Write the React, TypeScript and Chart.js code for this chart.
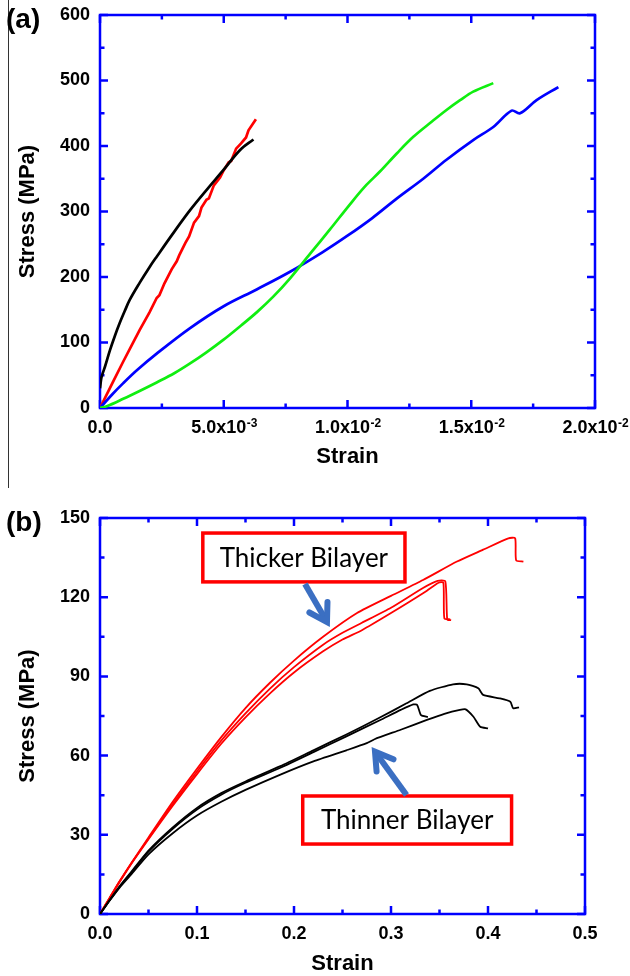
import React, { useEffect, useRef } from 'react';
import { Chart, registerables } from 'chart.js';

Chart.register(...registerables);

const FONT = '"Liberation Sans", Arial, Helvetica, sans-serif';

// ---------- Panel (a) ----------
const strainTicksA = [0, 0.005, 0.01, 0.015, 0.02];
const strainMantissaA = ['0.0', '5.0x10', '1.0x10', '1.5x10', '2.0x10'];
const strainExponentA = ['', '-3', '-2', '-2', '-2'];
const stressTicksA = [0, 100, 200, 300, 400, 500, 600];

const blackA: [number, number][] = [
  [0, 30], [0.00005, 45], [0.0001, 52], [0.0002, 63], [0.0004, 88], [0.0006, 110], [0.0008, 130],
  [0.001, 148], [0.0012, 165], [0.0016, 191], [0.002, 215], [0.00229, 231], [0.00296, 267],
  [0.00364, 302], [0.00431, 333], [0.00498, 363], [0.00566, 394], [0.0062, 410],
];
const redA: [number, number][] = [
  [0, 0], [0.0005, 38], [0.00094, 71], [0.0013, 97], [0.0016, 119], [0.002, 146], [0.00229, 168],
  [0.0024, 172], [0.0026, 190], [0.0029, 212], [0.0031, 224], [0.0032, 233], [0.00345, 252],
  [0.0036, 262], [0.0038, 283], [0.004, 293], [0.0041, 306], [0.0043, 318], [0.0044, 320],
  [0.0046, 340], [0.00485, 352], [0.005, 363], [0.0052, 375], [0.0053, 377], [0.0055, 396],
  [0.0057, 404], [0.0059, 413], [0.006, 424], [0.0063, 441],
];
const greenA: [number, number][] = [
  [0, 0], [0.0003, 3], [0.00094, 14], [0.0016, 26], [0.00229, 39], [0.003, 53], [0.00364, 68],
  [0.0043, 85], [0.00498, 104], [0.0057, 126], [0.00633, 146], [0.007, 170], [0.00768, 198],
  [0.0085, 236], [0.0093, 273], [0.0101, 311], [0.0107, 338], [0.01131, 361], [0.012, 389],
  [0.01266, 414], [0.0134, 437], [0.014, 455], [0.01455, 470], [0.01508, 483], [0.01589, 496],
];
const blueA: [number, number][] = [
  [0, 0], [0.0005, 21], [0.00094, 38], [0.0015, 58], [0.00229, 83], [0.00364, 122],
  [0.00498, 155], [0.00633, 181], [0.00768, 208], [0.009, 238], [0.01, 263], [0.011, 290],
  [0.012, 320], [0.01306, 350], [0.014, 379], [0.01508, 409], [0.01589, 429], [0.01663, 454],
  [0.01697, 450], [0.01764, 470], [0.01852, 490],
];

// ---------- Panel (b) ----------
const strainTicksB = [0, 0.1, 0.2, 0.3, 0.4, 0.5];
const strainMantissaB = ['0.0', '0.1', '0.2', '0.3', '0.4', '0.5'];
const strainExponentB = ['', '', '', '', '', ''];
const stressTicksB = [0, 30, 60, 90, 120, 150];

const thick1: [number, number][] = [
  [0, 0], [0.01, 6.2], [0.02, 12.3], [0.031, 18.6], [0.05, 29], [0.075, 42.5], [0.1, 55],
  [0.125, 67], [0.15, 78], [0.175, 87.5], [0.2, 96], [0.23, 105], [0.265, 114], [0.3, 120.5],
  [0.333, 126.5], [0.368, 133.5], [0.395, 138], [0.421, 142.3], [0.428, 142.3], [0.429, 134],
  [0.4365, 133.5],
];
const thick2: [number, number][] = [
  [0, 0], [0.01, 6], [0.02, 12], [0.031, 18.3], [0.05, 28.3], [0.075, 41], [0.1, 53],
  [0.125, 64.5], [0.15, 74.5], [0.175, 83.5], [0.2, 91.5], [0.23, 99.5], [0.25, 104],
  [0.27, 107.5], [0.3, 114], [0.333, 121.5], [0.349, 125.5], [0.354, 125.5], [0.355, 112],
  [0.361, 111.6],
];
const thick3: [number, number][] = [
  [0, 0], [0.01, 6.1], [0.02, 12.2], [0.031, 18.5], [0.05, 28.6], [0.075, 41.7], [0.1, 54],
  [0.125, 65.7], [0.15, 76], [0.175, 85.3], [0.2, 93.5], [0.23, 102], [0.25, 106.5],
  [0.27, 110.3], [0.3, 116], [0.333, 123.5], [0.348, 126.2], [0.356, 126], [0.358, 111.5],
  [0.362, 111.3],
];
const thin1: [number, number][] = [
  [0, 0], [0.01, 5.3], [0.02, 10.4], [0.031, 15.4], [0.05, 24], [0.075, 32.8], [0.1, 40.2],
  [0.125, 45.8], [0.15, 50.2], [0.186, 56], [0.22, 62], [0.254, 68], [0.289, 74.5],
  [0.316, 79.8], [0.34, 84.5], [0.364, 87], [0.378, 87], [0.39, 85.5], [0.395, 83],
  [0.412, 81.7], [0.423, 80.4], [0.426, 77.9], [0.432, 78.3],
];
const thin2: [number, number][] = [
  [0, 0], [0.01, 5.2], [0.02, 10.2], [0.031, 15], [0.05, 23.6], [0.075, 32.3], [0.1, 39.6],
  [0.125, 45.2], [0.15, 49.7], [0.186, 55.4], [0.22, 61.3], [0.254, 67.3], [0.289, 73.5],
  [0.31, 77.3], [0.323, 79.4], [0.327, 79.2], [0.331, 75.3], [0.338, 74.6],
];
const thin3: [number, number][] = [
  [0, 0], [0.01, 5.1], [0.02, 9.9], [0.031, 14.5], [0.05, 22.6], [0.075, 30.6], [0.1, 37.3],
  [0.125, 42.5], [0.15, 47], [0.186, 52.8], [0.22, 57.8], [0.254, 62], [0.275, 64.7],
  [0.283, 66.2], [0.31, 69.8], [0.337, 73.5], [0.355, 75.8], [0.371, 77.3], [0.377, 77.5],
  [0.385, 74.7], [0.392, 70.9], [0.4, 70.3],
];

// annotation boxes (data coordinates): [x0, y0, x1, y1], arrows [tailX, tailY, tipX, tipY]
const noteLabels = ['Thicker Bilayer', 'Thinner Bilayer'];
const noteBoxes = [
  [0.106, 144.3, 0.3144, 125.8],
  [0.209, 44.7, 0.4243, 26.5],
];
const noteArrows = [
  [0.2113, 125.0, 0.234, 110.6],
  [0.316, 45.1, 0.2835, 61.5],
];

const toXY = (arr: [number, number][]) => arr.map(([x, y]) => ({ x, y }));

const TICK_SIZE = 18;
const SUP_SIZE = 12;
const X_TICK_PAD = 9;
const SUP_GAP = '  ';

const frameTicks = {
  id: 'frameTicks',
  beforeDatasetsDraw(chart: any) {
    const { ctx, chartArea: a } = chart;
    const xs = chart.scales.x;
    const ys = chart.scales.y;
    const xv = xs.ticks.map((t: any) => t.value);
    const yv = ys.ticks.map((t: any) => t.value);
    const mids = (arr: number[]) => arr.slice(0, -1).map((v, i) => (v + arr[i + 1]) / 2);
    const major = 8;
    const minor = 4.5;
    ctx.save();
    ctx.strokeStyle = '#0000ff';
    ctx.lineWidth = 2.5;
    ctx.beginPath();
    const xTick = (v: number, len: number) => {
      const p = xs.getPixelForValue(v);
      ctx.moveTo(p, a.bottom);
      ctx.lineTo(p, a.bottom - len);
      ctx.moveTo(p, a.top);
      ctx.lineTo(p, a.top + len);
    };
    const yTick = (v: number, len: number) => {
      const p = ys.getPixelForValue(v);
      ctx.moveTo(a.left, p);
      ctx.lineTo(a.left + len, p);
      ctx.moveTo(a.right, p);
      ctx.lineTo(a.right - len, p);
    };
    xv.forEach((v: number) => xTick(v, major));
    mids(xv).forEach((v) => xTick(v, minor));
    yv.forEach((v: number) => yTick(v, major));
    mids(yv).forEach((v) => yTick(v, minor));
    ctx.stroke();
    ctx.strokeRect(a.left, a.top, a.right - a.left, a.bottom - a.top);
    ctx.restore();
  },
};

// draws the superscript exponent into the gap left at the end of each x tick label
const makeSuperscripts = (mantissa: string[], exps: string[]) => ({
  id: 'superscripts',
  afterDraw(chart: any) {
    const { ctx } = chart;
    const xs = chart.scales.x;
    const base = `bold ${TICK_SIZE}px ${FONT}`;
    const centerY = xs.top + X_TICK_PAD + (TICK_SIZE * 1.2) / 2;
    ctx.save();
    ctx.fillStyle = '#000';
    xs.ticks.forEach((t: any, i: number) => {
      const e = exps[i];
      if (!e) return;
      ctx.font = base;
      const full = ctx.measureText(mantissa[i] + SUP_GAP).width;
      const mw = ctx.measureText(mantissa[i]).width;
      const px = xs.getPixelForValue(t.value);
      const x = px - full / 2 + mw + 0.5;
      ctx.font = `bold ${SUP_SIZE}px ${FONT}`;
      ctx.textAlign = 'left';
      ctx.textBaseline = 'alphabetic';
      ctx.fillText(e, x, centerY - 1);
    });
    ctx.restore();
  },
});

const notesPlugin = {
  id: 'notes',
  afterDatasetsDraw(chart: any) {
    const { ctx } = chart;
    const xs = chart.scales.x;
    const ys = chart.scales.y;
    ctx.save();
    noteBoxes.forEach((b, i) => {
      const x0 = xs.getPixelForValue(b[0]);
      const y0 = ys.getPixelForValue(b[1]);
      const x1 = xs.getPixelForValue(b[2]);
      const y1 = ys.getPixelForValue(b[3]);
      ctx.fillStyle = '#ffffff';
      ctx.fillRect(x0, y0, x1 - x0, y1 - y0);
      ctx.strokeStyle = '#ff0000';
      ctx.lineWidth = 3.5;
      ctx.strokeRect(x0, y0, x1 - x0, y1 - y0);
      ctx.fillStyle = '#000000';
      ctx.font = '26px Lato, "Open Sans", sans-serif';
      ctx.textAlign = 'center';
      ctx.textBaseline = 'middle';
      ctx.fillText(noteLabels[i], (x0 + x1) / 2, (y0 + y1) / 2 + 1);

      const ar = noteArrows[i];
      const tx = xs.getPixelForValue(ar[0]);
      const ty = ys.getPixelForValue(ar[1]);
      const hx = xs.getPixelForValue(ar[2]);
      const hy = ys.getPixelForValue(ar[3]);
      const ang = Math.atan2(hy - ty, hx - tx);
      ctx.strokeStyle = '#3b6fc2';
      ctx.lineWidth = 6;
      ctx.lineCap = 'butt';
      ctx.beginPath();
      ctx.moveTo(tx, ty);
      ctx.lineTo(hx - Math.cos(ang) * 2, hy - Math.sin(ang) * 2);
      ctx.stroke();
      const hl = 20;
      ctx.lineCap = 'round';
      ctx.lineJoin = 'miter';
      ctx.beginPath();
      ctx.moveTo(hx - Math.cos(ang - 0.55) * hl, hy - Math.sin(ang - 0.55) * hl);
      ctx.lineTo(hx, hy);
      ctx.lineTo(hx - Math.cos(ang + 0.55) * hl, hy - Math.sin(ang + 0.55) * hl);
      ctx.stroke();
    });
    ctx.restore();
  },
};

type PanelCfg = {
  xMax: number;
  yMax: number;
  xTicks: number[];
  xMantissa: string[];
  xExponent: string[];
  yTicks: number[];
  padTop: number;
  padRight: number;
  xHeight: number;
  xTitlePad: number;
  lineWidth: number;
};

function buildOptions(c: PanelCfg): any {
  const tickFont = { family: FONT, size: TICK_SIZE, weight: 'bold' as const };
  const titleFont = { family: FONT, size: 22, weight: 'bold' as const, lineHeight: 1 };
  return {
    responsive: false,
    animation: false,
    events: [],
    layout: { padding: { left: 0, top: c.padTop, right: c.padRight, bottom: 0 } },
    plugins: { legend: { display: false }, tooltip: { enabled: false } },
    elements: { point: { radius: 0 }, line: { borderWidth: c.lineWidth } },
    scales: {
      x: {
        type: 'linear',
        min: 0,
        max: c.xMax,
        afterBuildTicks: (s: any) => {
          s.ticks = c.xTicks.map((v) => ({ value: v }));
        },
        afterFit: (s: any) => {
          s.height = c.xHeight;
          s.paddingLeft = 0;
          s.paddingRight = 0;
        },
        grid: { display: false, drawTicks: false },
        border: { display: false },
        ticks: {
          callback: (_v: any, i: number) => c.xMantissa[i] + (c.xExponent[i] ? SUP_GAP : ''),
          font: tickFont,
          color: '#000',
          padding: X_TICK_PAD,
          maxRotation: 0,
          autoSkip: false,
        },
        title: {
          display: true,
          text: 'Strain',
          font: titleFont,
          color: '#000',
          padding: { top: 0, bottom: c.xTitlePad },
        },
      },
      y: {
        type: 'linear',
        min: 0,
        max: c.yMax,
        afterBuildTicks: (s: any) => {
          s.ticks = c.yTicks.map((v) => ({ value: v }));
        },
        afterFit: (s: any) => {
          s.width = 100;
          s.paddingTop = 0;
          s.paddingBottom = 0;
        },
        grid: { display: false, drawTicks: false },
        border: { display: false },
        ticks: {
          callback: (v: any) => String(v),
          font: tickFont,
          color: '#000',
          padding: 10,
          autoSkip: false,
        },
        title: {
          display: true,
          text: 'Stress (MPa)',
          font: titleFont,
          color: '#000',
          padding: { top: 17, bottom: 0 },
        },
      },
    },
  };
}

const line = (data: [number, number][], color: string, tension: number) => ({
  data: toXY(data),
  borderColor: color,
  backgroundColor: color,
  fill: false,
  tension,
  pointRadius: 0,
});

export default function App() {
  const refA = useRef<HTMLCanvasElement | null>(null);
  const refB = useRef<HTMLCanvasElement | null>(null);

  useEffect(() => {
    const chartA = new Chart(refA.current as HTMLCanvasElement, {
      type: 'line',
      data: {
        datasets: [
          line(greenA, '#10ee10', 0.35),
          line(blueA, '#0000ff', 0.35),
          line(blackA, '#000000', 0.35),
          line(redA, '#ff0000', 0),
        ],
      },
      options: buildOptions({
        xMax: 0.02,
        yMax: 600,
        xTicks: strainTicksA,
        xMantissa: strainMantissaA,
        xExponent: strainExponentA,
        yTicks: stressTicksA,
        padTop: 15,
        padRight: 35,
        xHeight: 72,
        xTitlePad: 12,
        lineWidth: 2.7,
      }),
      plugins: [frameTicks, makeSuperscripts(strainMantissaA, strainExponentA)],
    } as any);

    const chartB = new Chart(refB.current as HTMLCanvasElement, {
      type: 'line',
      data: {
        datasets: [
          line(thin1, '#000000', 0.2),
          line(thin2, '#000000', 0.2),
          line(thin3, '#000000', 0.2),
          line(thick1, '#ff0000', 0.2),
          line(thick2, '#ff0000', 0.2),
          line(thick3, '#ff0000', 0.2),
        ],
      },
      options: buildOptions({
        xMax: 0.5,
        yMax: 150,
        xTicks: strainTicksB,
        xMantissa: strainMantissaB,
        xExponent: strainExponentB,
        yTicks: stressTicksB,
        padTop: 38,
        padRight: 45,
        xHeight: 62,
        xTitlePad: 1,
        lineWidth: 1.8,
      }),
      plugins: [frameTicks, notesPlugin],
    } as any);

    return () => {
      chartA.destroy();
      chartB.destroy();
    };
  }, []);

  const panelLabel: React.CSSProperties = {
    position: 'absolute',
    left: 6,
    font: `bold 28px ${FONT}`,
    lineHeight: '34px',
    color: '#000',
  };

  return (
    <div
      style={{
        position: 'absolute',
        left: 0,
        top: 0,
        width: 630,
        height: 976,
        background: '#ffffff',
        overflow: 'hidden',
      }}
    >
      <div style={{ position: 'absolute', left: 8, top: 0, width: 1, height: 488, background: '#333' }} />
      <canvas ref={refA} width={630} height={480} style={{ position: 'absolute', left: 0, top: 0 }} />
      <canvas ref={refB} width={630} height={496} style={{ position: 'absolute', left: 0, top: 480 }} />
      <div style={{ ...panelLabel, top: 2 }}>(a)</div>
      <div style={{ ...panelLabel, top: 505 }}>(b)</div>
    </div>
  );
}
